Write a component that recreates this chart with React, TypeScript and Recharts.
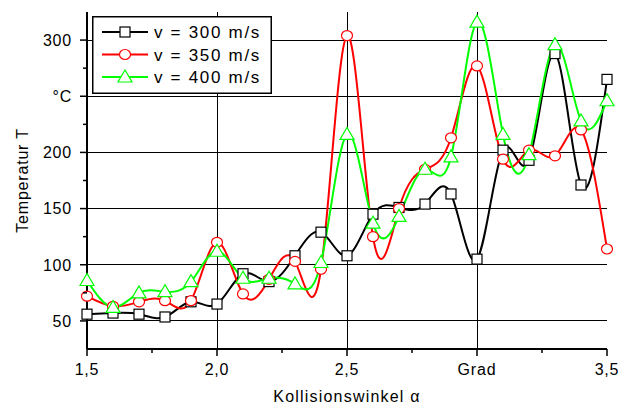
import React from 'react';
import { LineChart, Line, XAxis, YAxis, ReferenceLine, Legend, Label } from 'recharts';

// Kollisionswinkel alpha
const angles = [1.5, 1.6, 1.7, 1.8, 1.9, 2.0, 2.1, 2.2, 2.3, 2.4, 2.5, 2.6, 2.7, 2.8, 2.9, 3.0, 3.1, 3.2, 3.3, 3.4, 3.5];
// Temperatur T in °C
const v300 = [56, 57, 56, 53.5, 67, 65, 92, 85, 108, 129, 108, 145, 151, 154, 163, 105, 202, 193, 288, 171, 265];
const v350 = [72, 63, 67, 68, 68, 120, 74, 87, 103, 96, 304, 125, 150, 185, 213, 277, 194, 202, 197, 220, 114];
const v400 = [86, 62, 75, 76, 85, 112, 88, 88, 83, 102, 216, 137, 143, 185, 196, 316, 216, 198, 296, 228, 246];

const seriesNames = ['v = 300 m/s', 'v = 350 m/s', 'v = 400 m/s'];
const seriesColors = ['#000000', '#ff0000', '#00ff00'];

const xTicks = [1.5, 1.75, 2.0, 2.25, 2.5, 2.75, 3.0, 3.25, 3.5];
const xLabelValues = [1.5, 2.0, 2.5, 3.0, 3.5];
const xLabels = ['1,5', '2,0', '2,5', 'Grad', '3,5'];
const xGrid = [2.0, 2.5, 3.0];

const yTicks = [50, 75, 100, 125, 150, 175, 200, 225, 250, 275, 300];
const yLabelValues = [50, 100, 150, 200, 250, 300];
const yLabels = ['50', '100', '150', '200', '°C', '300'];
const yGrid = [50, 100, 150, 200, 250, 300];

const data = angles.map((a, i) => ({
  alpha: a,
  v300: v300[i],
  v350: v350[i],
  v400: v400[i],
}));

const FONT = '"Liberation Sans", Arial, sans-serif';

const XTick = (props: any) => {
  const { x, y, payload } = props;
  const i = xLabelValues.indexOf(payload.value);
  const major = i >= 0;
  return (
    <g>
      <line x1={x} x2={x} y1={y} y2={y + (major ? 7 : 4)} stroke="#000" strokeWidth={1.5} />
      {major && (
        <text x={x} y={y + 26} textAnchor="middle" fontSize={16} fontFamily={FONT} letterSpacing={0.8} fill="#000">
          {xLabels[i]}
        </text>
      )}
    </g>
  );
};

const XTickTop = (props: any) => {
  const { x, y, payload } = props;
  const major = xLabelValues.indexOf(payload.value) >= 0;
  return <line x1={x} x2={x} y1={y} y2={y + (major ? 7 : 4)} stroke="#000" strokeWidth={1.5} />;
};

const YTick = (props: any) => {
  const { x, y, payload } = props;
  const i = yLabelValues.indexOf(payload.value);
  const major = i >= 0;
  return (
    <g>
      <line x1={x} x2={x - (major ? 7 : 4)} y1={y} y2={y} stroke="#000" strokeWidth={1.5} />
      {major && (
        <text x={x - 15} y={y} dy="0.36em" textAnchor="end" fontSize={16} fontFamily={FONT} letterSpacing={0.8} fill="#000">
          {yLabels[i]}
        </text>
      )}
    </g>
  );
};

const YTickRight = (props: any) => {
  const { x, y, payload } = props;
  const major = yLabelValues.indexOf(payload.value) >= 0;
  return <line x1={x} x2={x - (major ? 7 : 4)} y1={y} y2={y} stroke="#000" strokeWidth={1.5} />;
};

const SquareDot = (props: any) => {
  const { cx, cy } = props;
  return <rect x={cx - 5} y={cy - 5} width={10} height={10} fill="#fff" stroke="#000" strokeWidth={1.2} />;
};

const CircleDot = (props: any) => {
  const { cx, cy } = props;
  return <ellipse cx={cx} cy={cy} rx={5.5} ry={5} fill="#fff" stroke="#ff0000" strokeWidth={1.2} />;
};

const TriangleDot = (props: any) => {
  const { cx, cy } = props;
  return (
    <polygon
      points={`${cx},${cy - 7} ${cx - 7},${cy + 5} ${cx + 7},${cy + 5}`}
      fill="#fff"
      stroke="#00ff00"
      strokeWidth={1.2}
    />
  );
};

const markers = [SquareDot, CircleDot, TriangleDot];

const LegendBox = () => (
  <svg width={180} height={78} style={{ display: 'block' }}>
    <rect x={0.75} y={0.75} width={178.5} height={76.5} fill="#fff" stroke="#000" strokeWidth={1.5} />
    {seriesNames.map((name, i) => {
      const cy = 16 + i * 22.5;
      const Marker = markers[i];
      return (
        <g key={name}>
          <line x1={10} x2={56} y1={cy} y2={cy} stroke={seriesColors[i]} strokeWidth={2} />
          <Marker cx={33} cy={cy} />
          <text x={62} y={cy} dy="0.36em" fontSize={17} fontFamily={FONT} letterSpacing={1.7} fill="#000">
            {name}
          </text>
        </g>
      );
    })}
  </svg>
);

const YTitle = (props: any) => {
  const vb = props.viewBox;
  const cx = vb.x + 22;
  const cy = vb.y + vb.height / 2;
  return (
    <text x={cx} y={cy} transform={`rotate(-90, ${cx}, ${cy})`} textAnchor="middle" dy="0.36em" fontSize={16} fontFamily={FONT} letterSpacing={0.8} fill="#000">
      Temperatur T
    </text>
  );
};

const XTitle = (props: any) => {
  const vb = props.viewBox;
  const cx = vb.x + vb.width / 2;
  const cy = vb.y + 47;
  return (
    <text x={cx} y={cy} textAnchor="middle" dy="0.36em" fontSize={16} fontFamily={FONT} letterSpacing={1.2} fill="#000">
      Kollisionswinkel α
    </text>
  );
};

export default function App() {
  return (
    <div style={{ position: 'absolute', left: 0, top: 0, background: '#fff' }}>
      <LineChart width={618} height={408} data={data} margin={{ top: 12, right: 11, bottom: 0, left: 0 }}>
        <XAxis
          dataKey="alpha"
          type="number"
          domain={[1.5, 3.5]}
          ticks={xTicks}
          interval={0}
          height={59}
          tickSize={0}
          tickMargin={0}
          tickLine={false}
          tick={<XTick />}
          axisLine={{ stroke: '#000', strokeWidth: 2 }}
        >
          <Label content={XTitle} />
        </XAxis>
        <XAxis
          xAxisId="top"
          orientation="top"
          dataKey="alpha"
          type="number"
          domain={[1.5, 3.5]}
          ticks={xTicks}
          interval={0}
          height={0}
          tickSize={0}
          tickMargin={0}
          tickLine={false}
          tick={<XTickTop />}
          axisLine={{ stroke: '#000', strokeWidth: 2 }}
        />
        <YAxis
          type="number"
          domain={[25, 325]}
          ticks={yTicks}
          interval={0}
          width={87}
          tickSize={0}
          tickMargin={0}
          tickLine={false}
          tick={<YTick />}
          axisLine={{ stroke: '#000', strokeWidth: 2 }}
        >
          <Label content={YTitle} />
        </YAxis>
        <YAxis
          yAxisId="right"
          orientation="right"
          type="number"
          domain={[25, 325]}
          ticks={yTicks}
          interval={0}
          width={0}
          tickSize={0}
          tickMargin={0}
          tickLine={false}
          tick={<YTickRight />}
          axisLine={{ stroke: '#000', strokeWidth: 2 }}
        />
        {yGrid.map((v) => (
          <ReferenceLine key={'h' + v} y={v} stroke="#000" strokeWidth={1} shapeRendering="crispEdges" />
        ))}
        {xGrid.map((v) => (
          <ReferenceLine key={'v' + v} x={v} stroke="#000" strokeWidth={1} shapeRendering="crispEdges" />
        ))}
        <Line dataKey="v300" name={seriesNames[0]} type="natural" stroke={seriesColors[0]} strokeWidth={2} dot={<SquareDot />} activeDot={false} isAnimationActive={false} />
        <Line dataKey="v350" name={seriesNames[1]} type="natural" stroke={seriesColors[1]} strokeWidth={2} dot={<CircleDot />} activeDot={false} isAnimationActive={false} />
        <Line dataKey="v400" name={seriesNames[2]} type="natural" stroke={seriesColors[2]} strokeWidth={2} dot={<TriangleDot />} activeDot={false} isAnimationActive={false} />
        <Legend
          layout="horizontal"
          verticalAlign="middle"
          align="center"
          content={<LegendBox />}
          wrapperStyle={{ left: 92, top: 16, width: 180, height: 78 }}
        />
      </LineChart>
    </div>
  );
}
